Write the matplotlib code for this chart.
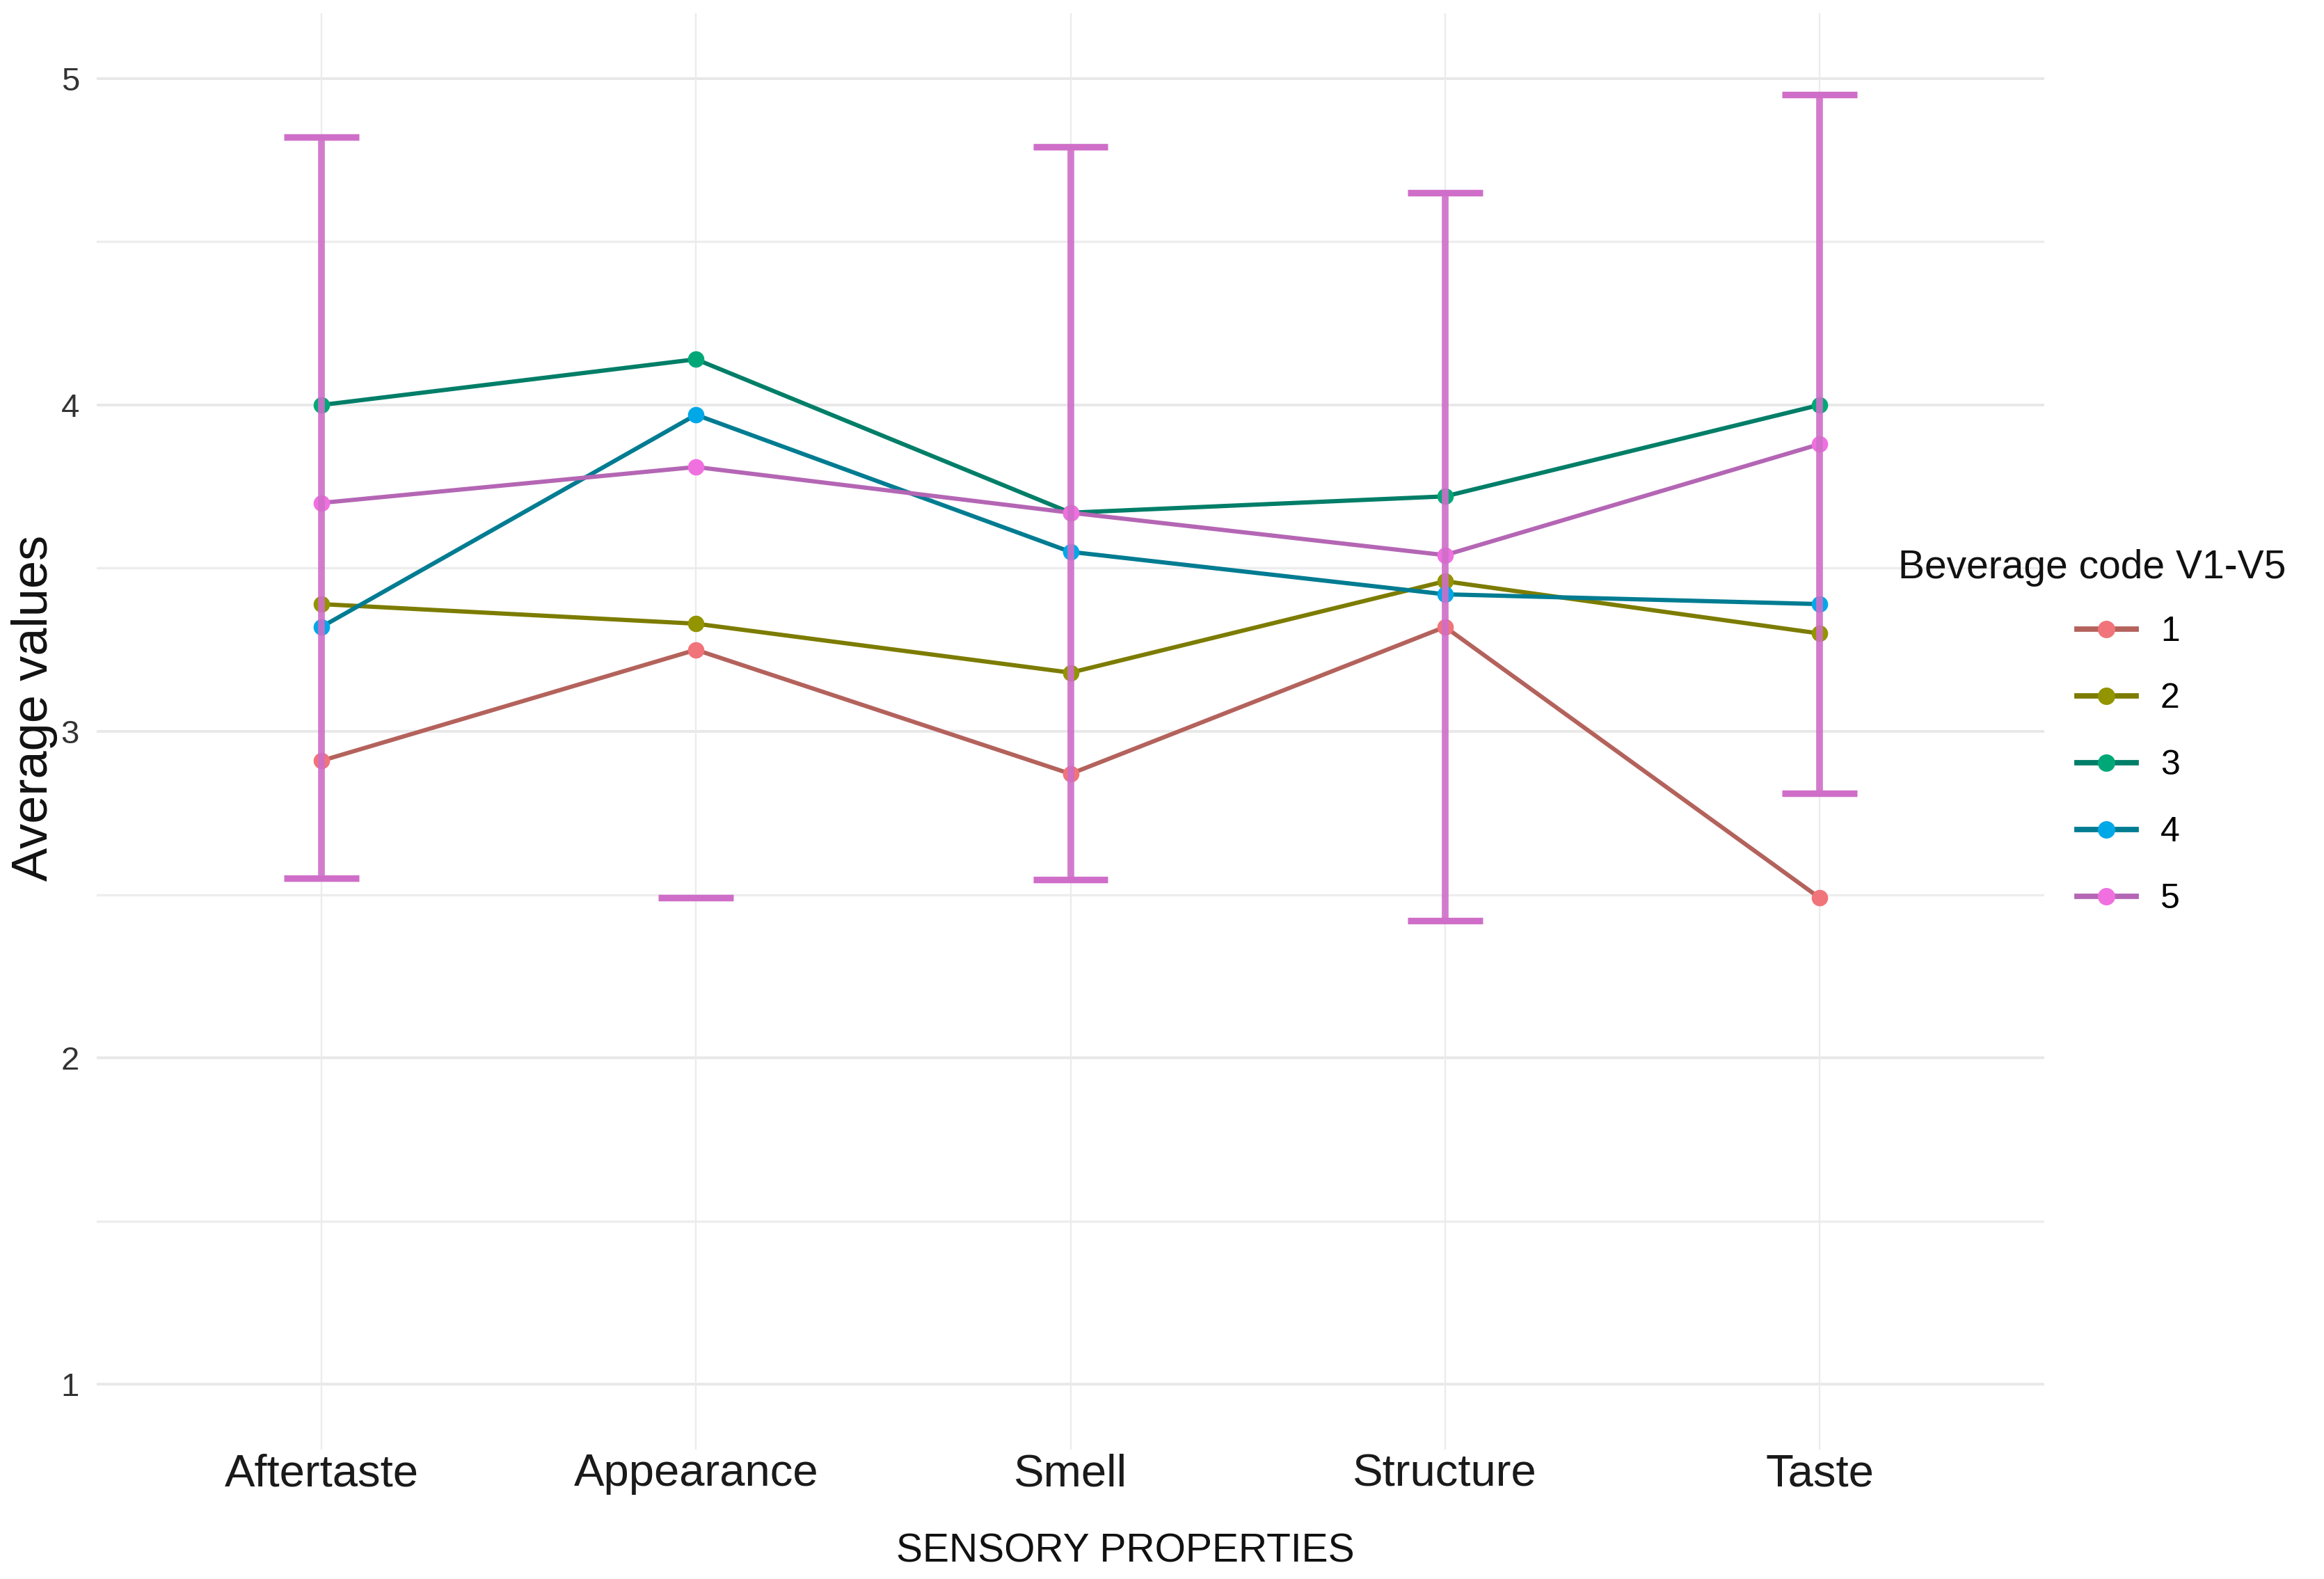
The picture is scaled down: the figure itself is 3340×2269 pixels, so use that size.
import numpy as np
import matplotlib
matplotlib.use("Agg")
import matplotlib.pyplot as plt
from matplotlib import font_manager as fm
from matplotlib.lines import Line2D

# ---------------- data ----------------
categories = ["Aftertaste", "Appearance", "Smell", "Structure", "Taste"]
series_labels = ["1", "2", "3", "4", "5"]
v1 = [2.91, 3.25, 2.87, 3.32, 2.49]
v2 = [3.39, 3.33, 3.18, 3.46, 3.30]
v3 = [4.00, 4.14, 3.67, 3.72, 4.00]
v4 = [3.32, 3.97, 3.55, 3.42, 3.39]
v5 = [3.70, 3.81, 3.67, 3.54, 3.88]
err_upper = [4.82, np.nan, 4.79, 4.65, 4.95]
err_lower = [2.55, 2.49, 2.545, 2.42, 2.81]
y_ticks = [1, 2, 3, 4, 5]
y_minor = [1.5, 2.5, 3.5, 4.5]

line_colors = ["#B4625C", "#7C7C00", "#007E68", "#007C92", "#B466B4"]
point_colors = ["#F0747A", "#929400", "#00A878", "#00A8E8", "#F070E0"]
err_color = "#CF6EC8"

# ---------------- fonts ----------------
names = {f.name for f in fm.fontManager.ttflist}
NARROW = "Liberation Sans Narrow" if "Liberation Sans Narrow" in names else "Liberation Sans"
REG = "Liberation Sans"
narrow_ok = NARROW == "Liberation Sans Narrow"
k = 1.0 if narrow_ok else 0.9

fig = plt.figure(figsize=(16.705, 11.345), dpi=200)
ax = fig.add_axes([0.0416, 0.0820, 0.8378, 0.9096])

x = np.arange(len(categories))
series = [v1, v2, v3, v4, v5]

# grid
for yv in y_ticks:
    ax.axhline(yv, color="#E8E8E8", lw=1.4, zorder=0)
for yv in y_minor:
    ax.axhline(yv, color="#EDEDED", lw=1.2, zorder=0)
for xv in x:
    ax.axvline(xv, color="#EBEBEB", lw=0.8, zorder=0)

for vals, lc, pc in zip(series, line_colors, point_colors):
    ax.plot(x, vals, color=lc, lw=2.2, marker="o", ms=7.5,
            mfc=pc, mec=pc, zorder=3)

# error bars (series 5)
up = np.array(err_upper, dtype=float)
lo = np.array(err_lower, dtype=float)
has_up = ~np.isnan(up)
ax.vlines(x[has_up], lo[has_up], up[has_up], color=err_color, lw=3.5, zorder=5, alpha=0.9)
ax.hlines(up[has_up], x[has_up] - 0.1, x[has_up] + 0.1, color=err_color, lw=3.4, zorder=5)
ax.hlines(lo, x - 0.1, x + 0.1, color=err_color, lw=3.4, zorder=5)

ax.set_xlim(-0.6, 4.6)
ax.set_ylim(0.8, 5.2)
ax.set_xticks(x)
ax.set_xticklabels(categories, fontfamily=NARROW, fontsize=26 * k if narrow_ok else 23.5, color="#1A1A1A")
ax.set_yticks(y_ticks)
ax.set_yticklabels([str(t) for t in y_ticks], fontfamily=NARROW, fontsize=17, color="#333333")
ax.tick_params(axis="both", length=0)
ax.tick_params(axis="y", pad=9)
ax.tick_params(axis="x", pad=2)
for s in ax.spines.values():
    s.set_visible(False)

ax.set_xlabel("SENSORY PROPERTIES", fontfamily=NARROW, fontsize=26 if narrow_ok else 20.5, color="#111111")
ax.xaxis.set_label_coords(0.528, -0.058)
ax.set_ylabel("Average values", fontfamily=REG, fontsize=26, color="#111111")
ax.yaxis.set_label_coords(-0.020, 0.5165)

# legend
fig.text(2728 / 3341, 1 - 816 / 2269, "Beverage code V1-V5", fontfamily=NARROW,
         fontsize=26 if narrow_ok else 20.5, ha="left", va="center", color="#111111")
handles = [Line2D([], [], color=lc, lw=2.8, marker="o", ms=8, mfc=pc, mec=pc)
           for lc, pc in zip(line_colors, point_colors)]
leg = ax.legend(handles, series_labels, loc="center left",
                bbox_to_anchor=(2985 / 3341, 1 - 1100 / 2269), bbox_transform=fig.transFigure,
                frameon=False, borderpad=0, borderaxespad=0, handlelength=1.7,
                handletextpad=0.7, labelspacing=1.0,
                prop={"family": NARROW, "size": 18})

fig.savefig("out.png", dpi=200)
